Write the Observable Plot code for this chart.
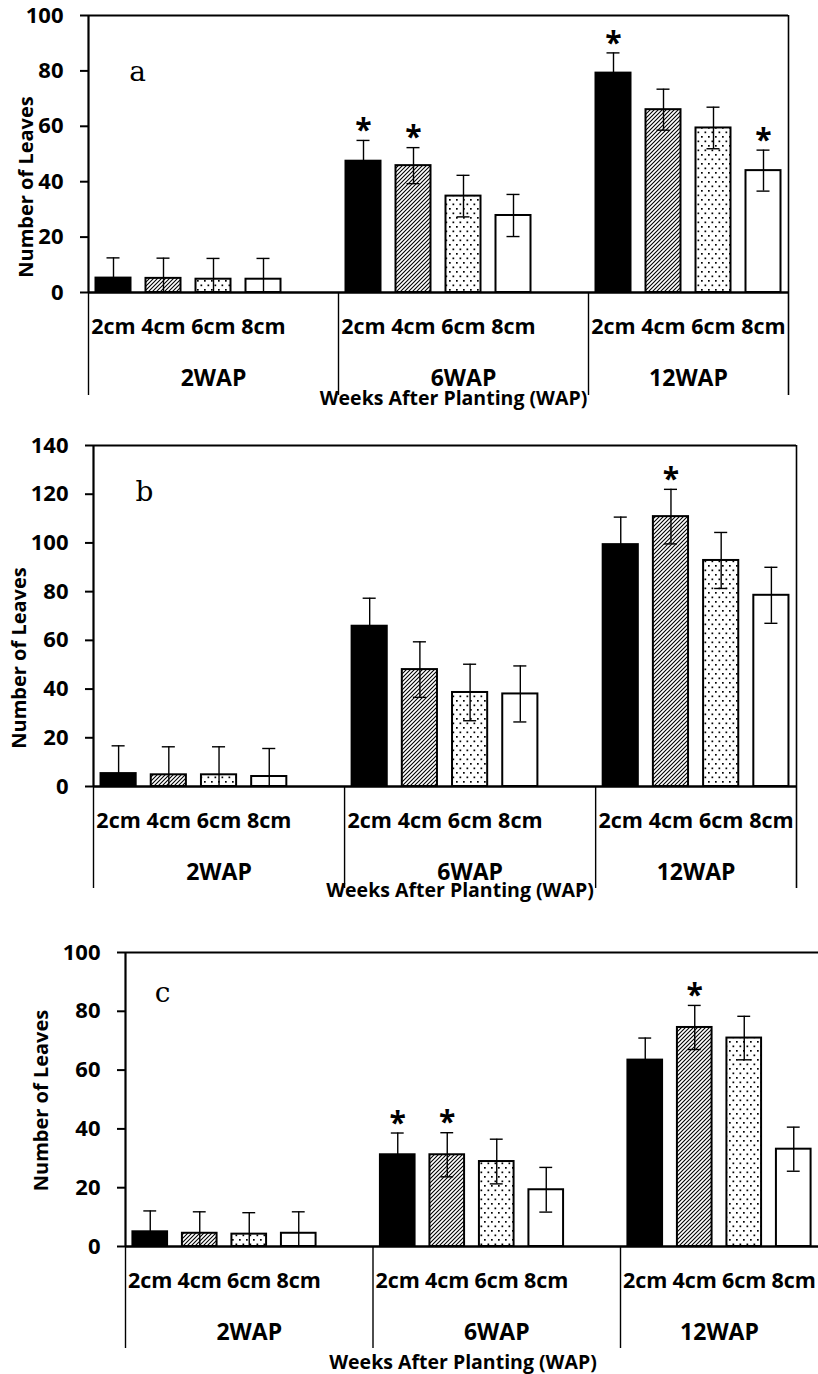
<!DOCTYPE html>
<html>
<head>
<meta charset="utf-8">
<script src="https://cdn.jsdelivr.net/npm/d3@7"></script>
<script src="https://cdn.jsdelivr.net/npm/@observablehq/plot@0.6"></script>
<style>
  html, body { margin: 0; padding: 0; background: #fff; }
  #chart svg.plot { display: block; }
</style>
</head>
<body>
<svg width="0" height="0" style="position:absolute">
  <defs>
    <pattern id="hatch" patternUnits="userSpaceOnUse" width="4" height="4">
      <rect width="4" height="4" fill="#fff"/>
      <path d="M-1,1 l2,-2 M0,4 l4,-4 M3,5 l2,-2" stroke="#000" stroke-width="1.1"/>
    </pattern>
    <pattern id="dots" patternUnits="userSpaceOnUse" width="7" height="9">
      <rect width="7" height="9" fill="#fff"/>
      <rect x="1" y="1" width="1.7" height="1.7" fill="#000"/>
      <rect x="4.5" y="5.5" width="1.7" height="1.7" fill="#000"/>
    </pattern>
  </defs>
</svg>
<div id="chart"></div>
<script>
// ---------- data ----------
const sizes = ["2cm", "4cm", "6cm", "8cm"];
const weeks = ["2WAP", "6WAP", "12WAP"];
const axisTitle = "Weeks After Planting (WAP)";
const yLabel = "Number of Leaves";

const ticksA = [0, 20, 40, 60, 80, 100];
const meansA = [[5.2, 5.1, 4.8, 4.8], [47.4, 45.8, 34.8, 27.8], [79.2, 66.0, 59.4, 44.0]];
const errsA  = [[7.3, 7.3, 7.5, 7.5], [7.5, 6.5, 7.5, 7.6], [7.3, 7.4, 7.5, 7.4]];
const sigA   = [[0, 0, 0, 0], [1, 1, 0, 0], [1, 0, 0, 1]];

const ticksB = [0, 20, 40, 60, 80, 100, 120, 140];
const meansB = [[5.3, 4.8, 4.8, 4.1], [65.8, 48.0, 38.6, 38.0], [99.3, 110.8, 92.8, 78.5]];
const errsB  = [[11.4, 11.5, 11.5, 11.5], [11.5, 11.4, 11.6, 11.5], [11.3, 11.2, 11.5, 11.5]];
const sigB   = [[0, 0, 0, 0], [0, 0, 0, 0], [0, 1, 0, 0]];

const ticksC = [0, 20, 40, 60, 80, 100];
const meansC = [[5.0, 4.5, 4.2, 4.5], [31.2, 31.2, 28.9, 19.3], [63.4, 74.5, 70.9, 33.1]];
const errsC  = [[7.1, 7.3, 7.3, 7.3], [7.4, 7.5, 7.6, 7.6], [7.5, 7.5, 7.4, 7.5]];
const sigC   = [[0, 0, 0, 0], [1, 1, 0, 0], [0, 1, 0, 0]];

// ---------- drawing ----------
const fills = ["#000", "url(#hatch)", "url(#dots)", "#fff"];
const per = sizes.length + 1;               // slots per group incl. blank gap
const nSlots = weeks.length * per - 1;      // last group has no trailing gap
const FONT = "'Open Sans', Lato, sans-serif";

function panel(cfg) {
  const {letter, ticks, means, errs, sig, height, mt, mb, ml, mr, rightLine,
         ext, ylDx, ylDy, titleDx, titleDy, letterDx, letterDy} = cfg;
  const rows = weeks.flatMap((w, g) => sizes.map((s, i) => ({
    g, i, s, slot: g * per + i, v: means[g][i], e: errs[g][i], sig: sig[g][i]
  })));
  const groups = weeks.map((w, g) => ({w, start: g * per, end: Math.min(g * per + per, nSlots)}));
  const frameH = height - mt - mb;
  const yMax = ticks[ticks.length - 1];
  const txt = {fontFamily: FONT, fontWeight: "bold", textAnchor: "middle", lineAnchor: "middle", fill: "#000"};

  const marks = [
    // bars
    ...sizes.map((s, i) => Plot.rectY(rows.filter(r => r.i === i), {
      x1: d => d.slot + 0.15, x2: d => d.slot + 0.85, y: "v",
      fill: fills[i], stroke: "#000", strokeWidth: 2
    })),
    // error bars
    Plot.ruleX(rows, {x: d => d.slot + 0.5, y1: d => Math.max(0, d.v - d.e), y2: d => d.v + d.e, stroke: "#000", strokeWidth: 1.4}),
    Plot.ruleY(rows, {y: d => d.v + d.e, x1: d => d.slot + 0.37, x2: d => d.slot + 0.63, stroke: "#000", strokeWidth: 1.4}),
    Plot.ruleY(rows.filter(d => d.v - d.e > 0), {y: d => d.v - d.e, x1: d => d.slot + 0.37, x2: d => d.slot + 0.63, stroke: "#000", strokeWidth: 1.4}),
    // significance asterisks
    Plot.text(rows.filter(d => d.sig), {x: d => d.slot + 0.5, y: d => d.v + d.e, text: () => "*", dy: -10, fontSize: 30, ...txt}),
    // frame lines
    Plot.ruleY([yMax], {stroke: "#000", strokeWidth: 2}),
    Plot.ruleX([0], {stroke: "#000", strokeWidth: 2.2}),
    Plot.ruleX([0], {stroke: "#000", strokeWidth: 1.4, insetTop: frameH, insetBottom: -ext}),
    ...(rightLine ? [Plot.ruleX([nSlots], {stroke: "#000", strokeWidth: 1.6, insetBottom: -ext})] : []),
    Plot.ruleX(groups.slice(1).map(d => d.start), {stroke: "#000", strokeWidth: 1.4, insetTop: frameH, insetBottom: -ext}),
    Plot.ruleY([0], {stroke: "#000", strokeWidth: 2.5}),
    // y axis: ticks + labels
    Plot.axisY({ticks, tickSize: 8, strokeWidth: 2, text: null, label: null}),
    Plot.text(ticks, {y: d => d, text: d => String(d), frameAnchor: "left", dx: -25, fontSize: 22, ...txt, textAnchor: "end"}),
    // category labels
    Plot.text(rows, {x: d => d.slot + 0.5, text: "s", frameAnchor: "bottom", dy: 35, fontSize: 21.5, ...txt}),
    Plot.text(groups, {x: d => (d.start + d.end) / 2, text: "w", frameAnchor: "bottom", dy: 86, fontSize: 23, ...txt}),
    Plot.text([axisTitle], {text: d => d, frameAnchor: "bottom", dx: titleDx, dy: titleDy, fontSize: 19.5, ...txt}),
    // y label
    Plot.text([yLabel], {text: d => d, frameAnchor: "left", rotate: -90, dx: ylDx, dy: ylDy, fontSize: 20, ...txt}),
    // panel letter
    Plot.text([letter], {text: d => d, frameAnchor: "top-left", dx: letterDx, dy: letterDy, fontSize: 28,
      fontFamily: "'DejaVu Serif', serif", fontWeight: "normal", textAnchor: "middle", lineAnchor: "middle", fill: "#000"})
  ];

  return Plot.plot({
    width: 818, height,
    marginTop: mt, marginBottom: mb, marginLeft: ml, marginRight: mr,
    x: {type: "linear", domain: [0, nSlots], axis: null},
    y: {domain: [0, yMax]},
    style: {fontFamily: FONT, fontWeight: "bold", color: "#000", background: "#fff", overflow: "visible"},
    marks
  });
}

const root = document.getElementById("chart");
root.append(panel({letter: "a", ticks: ticksA, means: meansA, errs: errsA, sig: sigA,
  height: 420, mt: 15, mb: 128, ml: 88, mr: 30, rightLine: true, ext: 103,
  ylDx: -62, ylDy: 33, titleDx: 15, titleDy: 106, letterDx: 49, letterDy: 57}));
root.append(panel({letter: "b", ticks: ticksB, means: meansB, errs: errsB, sig: sigB,
  height: 485, mt: 25, mb: 119, ml: 93, mr: 22, rightLine: true, ext: 102,
  ylDx: -74, ylDy: 42, titleDx: 15, titleDy: 104, letterDx: 51, letterDy: 47}));
root.append(panel({letter: "c", ticks: ticksC, means: meansC, errs: errsC, sig: sigC,
  height: 469, mt: 47, mb: 128, ml: 125, mr: 0, rightLine: false, ext: 102,
  ylDx: -84, ylDy: 1, titleDx: -9, titleDy: 116, letterDx: 37, letterDy: 41}));
</script>
</body>
</html>
